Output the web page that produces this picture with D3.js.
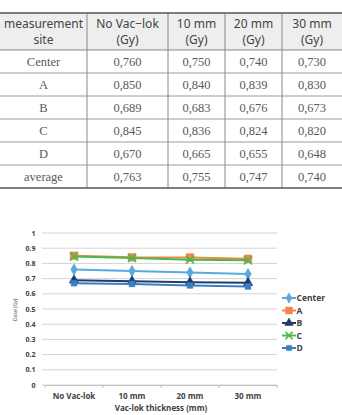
<!DOCTYPE html>
<html lang="en">
<head>
    <meta charset="UTF-8">
    <title>Dose by Vac-lok thickness</title>
    <script src="https://d3js.org/d3.v7.min.js"></script>
    <style>
        body, html {
            margin: 0;
            padding: 0;
            background: #fff;
            overflow: hidden;
        }
        .hdr { font-family: "Noto Sans", sans-serif; font-size: 12px; fill: #444; }
        .cell { font-family: "Liberation Serif", serif; font-size: 12.5px; fill: #5a5a5a; }
        .tick { font-family: "Open Sans", sans-serif; font-size: 7px; font-weight: bold; fill: #404040; }
    </style>
</head>
<body>
<div id="chart"></div>
<script>
    // table data
    const headers = [["measurement", "site"], ["No Vac\u2212lok", "(Gy)"], ["10 mm", "(Gy)"], ["20 mm", "(Gy)"], ["30 mm", "(Gy)"]];
    const sites = ["Center", "A", "B", "C", "D", "average"];
    const tableValues = [
        ["0,760", "0,750", "0,740", "0,730"],
        ["0,850", "0,840", "0,839", "0,830"],
        ["0,689", "0,683", "0,676", "0,673"],
        ["0,845", "0,836", "0,824", "0,820"],
        ["0,670", "0,665", "0,655", "0,648"],
        ["0,763", "0,755", "0,747", "0,740"]
    ];

    // chart data
    const categories = ["No Vac-lok", "10 mm", "20 mm", "30 mm"];
    const seriesNames = ["Center", "A", "B", "C", "D"];
    const centerVals = [0.760, 0.750, 0.740, 0.730];
    const aVals = [0.850, 0.840, 0.839, 0.830];
    const bVals = [0.689, 0.683, 0.676, 0.673];
    const cVals = [0.845, 0.836, 0.824, 0.820];
    const dVals = [0.670, 0.665, 0.655, 0.648];
    const yTicks = [0, 0.1, 0.2, 0.3, 0.4, 0.5, 0.6, 0.7, 0.8, 0.9, 1];

    const W = 342, H = 415;
    const svg = d3.select("#chart").append("svg").attr("width", W).attr("height", H);

    // ---- table ----
    const colEdges = [0, 87, 168, 225, 282, 342];
    const tTop = 13, hdrBottom = 50, rowH = 23;
    const tBottom = hdrBottom + rowH * sites.length;

    svg.append("rect").attr("x", 0).attr("y", tTop).attr("width", W).attr("height", hdrBottom - tTop)
        .attr("fill", "#eeeeee");

    headers.forEach((h, i) => {
        const cx = (colEdges[i] + colEdges[i + 1]) / 2;
        h.forEach((line, k) => {
            svg.append("text").attr("class", "hdr").attr("x", cx).attr("y", 27.5 + k * 16)
                .attr("text-anchor", "middle").text(line);
        });
    });

    sites.forEach((s, r) => {
        const cy = hdrBottom + rowH * r + rowH / 2 + 4.5;
        const row = [s].concat(tableValues[r]);
        row.forEach((v, i) => {
            const cx = (colEdges[i] + colEdges[i + 1]) / 2;
            svg.append("text").attr("class", "cell").attr("x", cx).attr("y", cy)
                .attr("text-anchor", "middle").text(v);
        });
        if (r > 0) {
            svg.append("line").attr("x1", 0).attr("x2", W)
                .attr("y1", hdrBottom + rowH * r).attr("y2", hdrBottom + rowH * r)
                .attr("stroke", "#9a9a9a").attr("stroke-width", 1);
        }
    });

    // vertical lines
    colEdges.slice(1, 5).forEach(x => {
        svg.append("line").attr("x1", x).attr("x2", x).attr("y1", tTop).attr("y2", tBottom)
            .attr("stroke", "#888").attr("stroke-width", 1);
    });
    svg.append("line").attr("x1", 0).attr("x2", W).attr("y1", hdrBottom).attr("y2", hdrBottom)
        .attr("stroke", "#888").attr("stroke-width", 1);
    svg.append("line").attr("x1", 0).attr("x2", W).attr("y1", tTop).attr("y2", tTop)
        .attr("stroke", "#555").attr("stroke-width", 1.6);
    svg.append("line").attr("x1", 0).attr("x2", W).attr("y1", tBottom).attr("y2", tBottom)
        .attr("stroke", "#555").attr("stroke-width", 1.6);

    // ---- line chart ----
    const plot = { left: 45, right: 277, top: 233, bottom: 385 };
    const x = d3.scaleBand().domain(categories).range([plot.left, plot.right]);
    const y = d3.scaleLinear().domain([0, 1]).range([plot.bottom, plot.top]);

    // gridlines
    svg.append("g")
        .selectAll("line").data(yTicks).enter().append("line")
        .attr("x1", plot.left - 3).attr("x2", plot.right)
        .attr("y1", d => y(d)).attr("y2", d => y(d))
        .attr("stroke", "#d4d4d4").attr("stroke-width", 1);

    svg.append("g")
        .selectAll("text").data(yTicks).enter().append("text")
        .attr("class", "tick").attr("x", 35.5).attr("y", d => y(d) + 2.5)
        .attr("text-anchor", "end").text(d => d3.format("~g")(d));

    // x axis
    const xAxis = svg.append("g").attr("transform", `translate(0,${plot.bottom})`)
        .call(d3.axisBottom(x).tickSize(0).tickPadding(8));
    xAxis.select(".domain").attr("stroke", "#bfbfbf");
    xAxis.selectAll("text").attr("class", "tick").attr("font-family", null).attr("font-size", null)
        .attr("fill", null).style("font-size", "8px");
    const bounds = categories.map(c => x(c)).concat([plot.right]);
    svg.append("g").selectAll("line").data(bounds).enter().append("line")
        .attr("x1", d => d).attr("x2", d => d).attr("y1", plot.bottom).attr("y2", plot.bottom + 3)
        .attr("stroke", "#bfbfbf");

    svg.append("text").attr("class", "tick").attr("x", (plot.left + plot.right) / 2).attr("y", 411)
        .attr("text-anchor", "middle").style("font-size", "8px").text("Vac-lok thickness (mm)");

    svg.append("text").attr("transform", "translate(17,310) rotate(-90)")
        .attr("text-anchor", "middle").attr("font-family", "Open Sans, sans-serif")
        .attr("font-size", "5px").attr("fill", "#404040").text("Dose (Gy)");

    const series = [
        { name: "Center", vals: centerVals, color: "#5aa9dd", sym: d3.symbolDiamond, size: 38 },
        { name: "A", vals: aVals, color: "#f0874a", sym: d3.symbolSquare, size: 60 },
        { name: "B", vals: bVals, color: "#1f3a6b", sym: d3.symbolTriangle, size: 40 },
        { name: "C", vals: cVals, color: "#4cb84a", sym: d3.symbolX, size: 45 },
        { name: "D", vals: dVals, color: "#3a7fc4", sym: d3.symbolSquare, size: 34 }
    ];

    const line = d3.line().x((d, i) => x(categories[i]) + x.bandwidth() / 2).y(d => y(d));

    series.forEach(s => {
        svg.append("path").datum(s.vals).attr("d", line)
            .attr("fill", "none").attr("stroke", s.color).attr("stroke-width", 2);
        svg.append("g").selectAll("path").data(s.vals).enter().append("path")
            .attr("transform", (d, i) => `translate(${x(categories[i]) + x.bandwidth() / 2},${y(d)})`)
            .attr("d", d3.symbol().type(s.sym).size(s.size))
            .attr("fill", s.color).attr("stroke", s.color).attr("stroke-width", s.sym === d3.symbolX ? 1.5 : 0.5);
    });

    // legend
    const legend = svg.append("g").attr("transform", "translate(282,298)");
    series.forEach((s, i) => {
        const g = legend.append("g").attr("transform", `translate(0,${i * 12.5})`);
        g.append("line").attr("x1", 0).attr("x2", 14).attr("stroke", s.color).attr("stroke-width", 2);
        g.append("path").attr("transform", "translate(7,0)")
            .attr("d", d3.symbol().type(s.sym).size(s.size * 0.8))
            .attr("fill", s.color).attr("stroke", s.color).attr("stroke-width", s.sym === d3.symbolX ? 1.5 : 0.5);
        g.append("text").attr("class", "tick").attr("x", 14.5).attr("y", 3).style("font-size", "8.5px").text(s.name);
    });
</script>
</body>
</html>
